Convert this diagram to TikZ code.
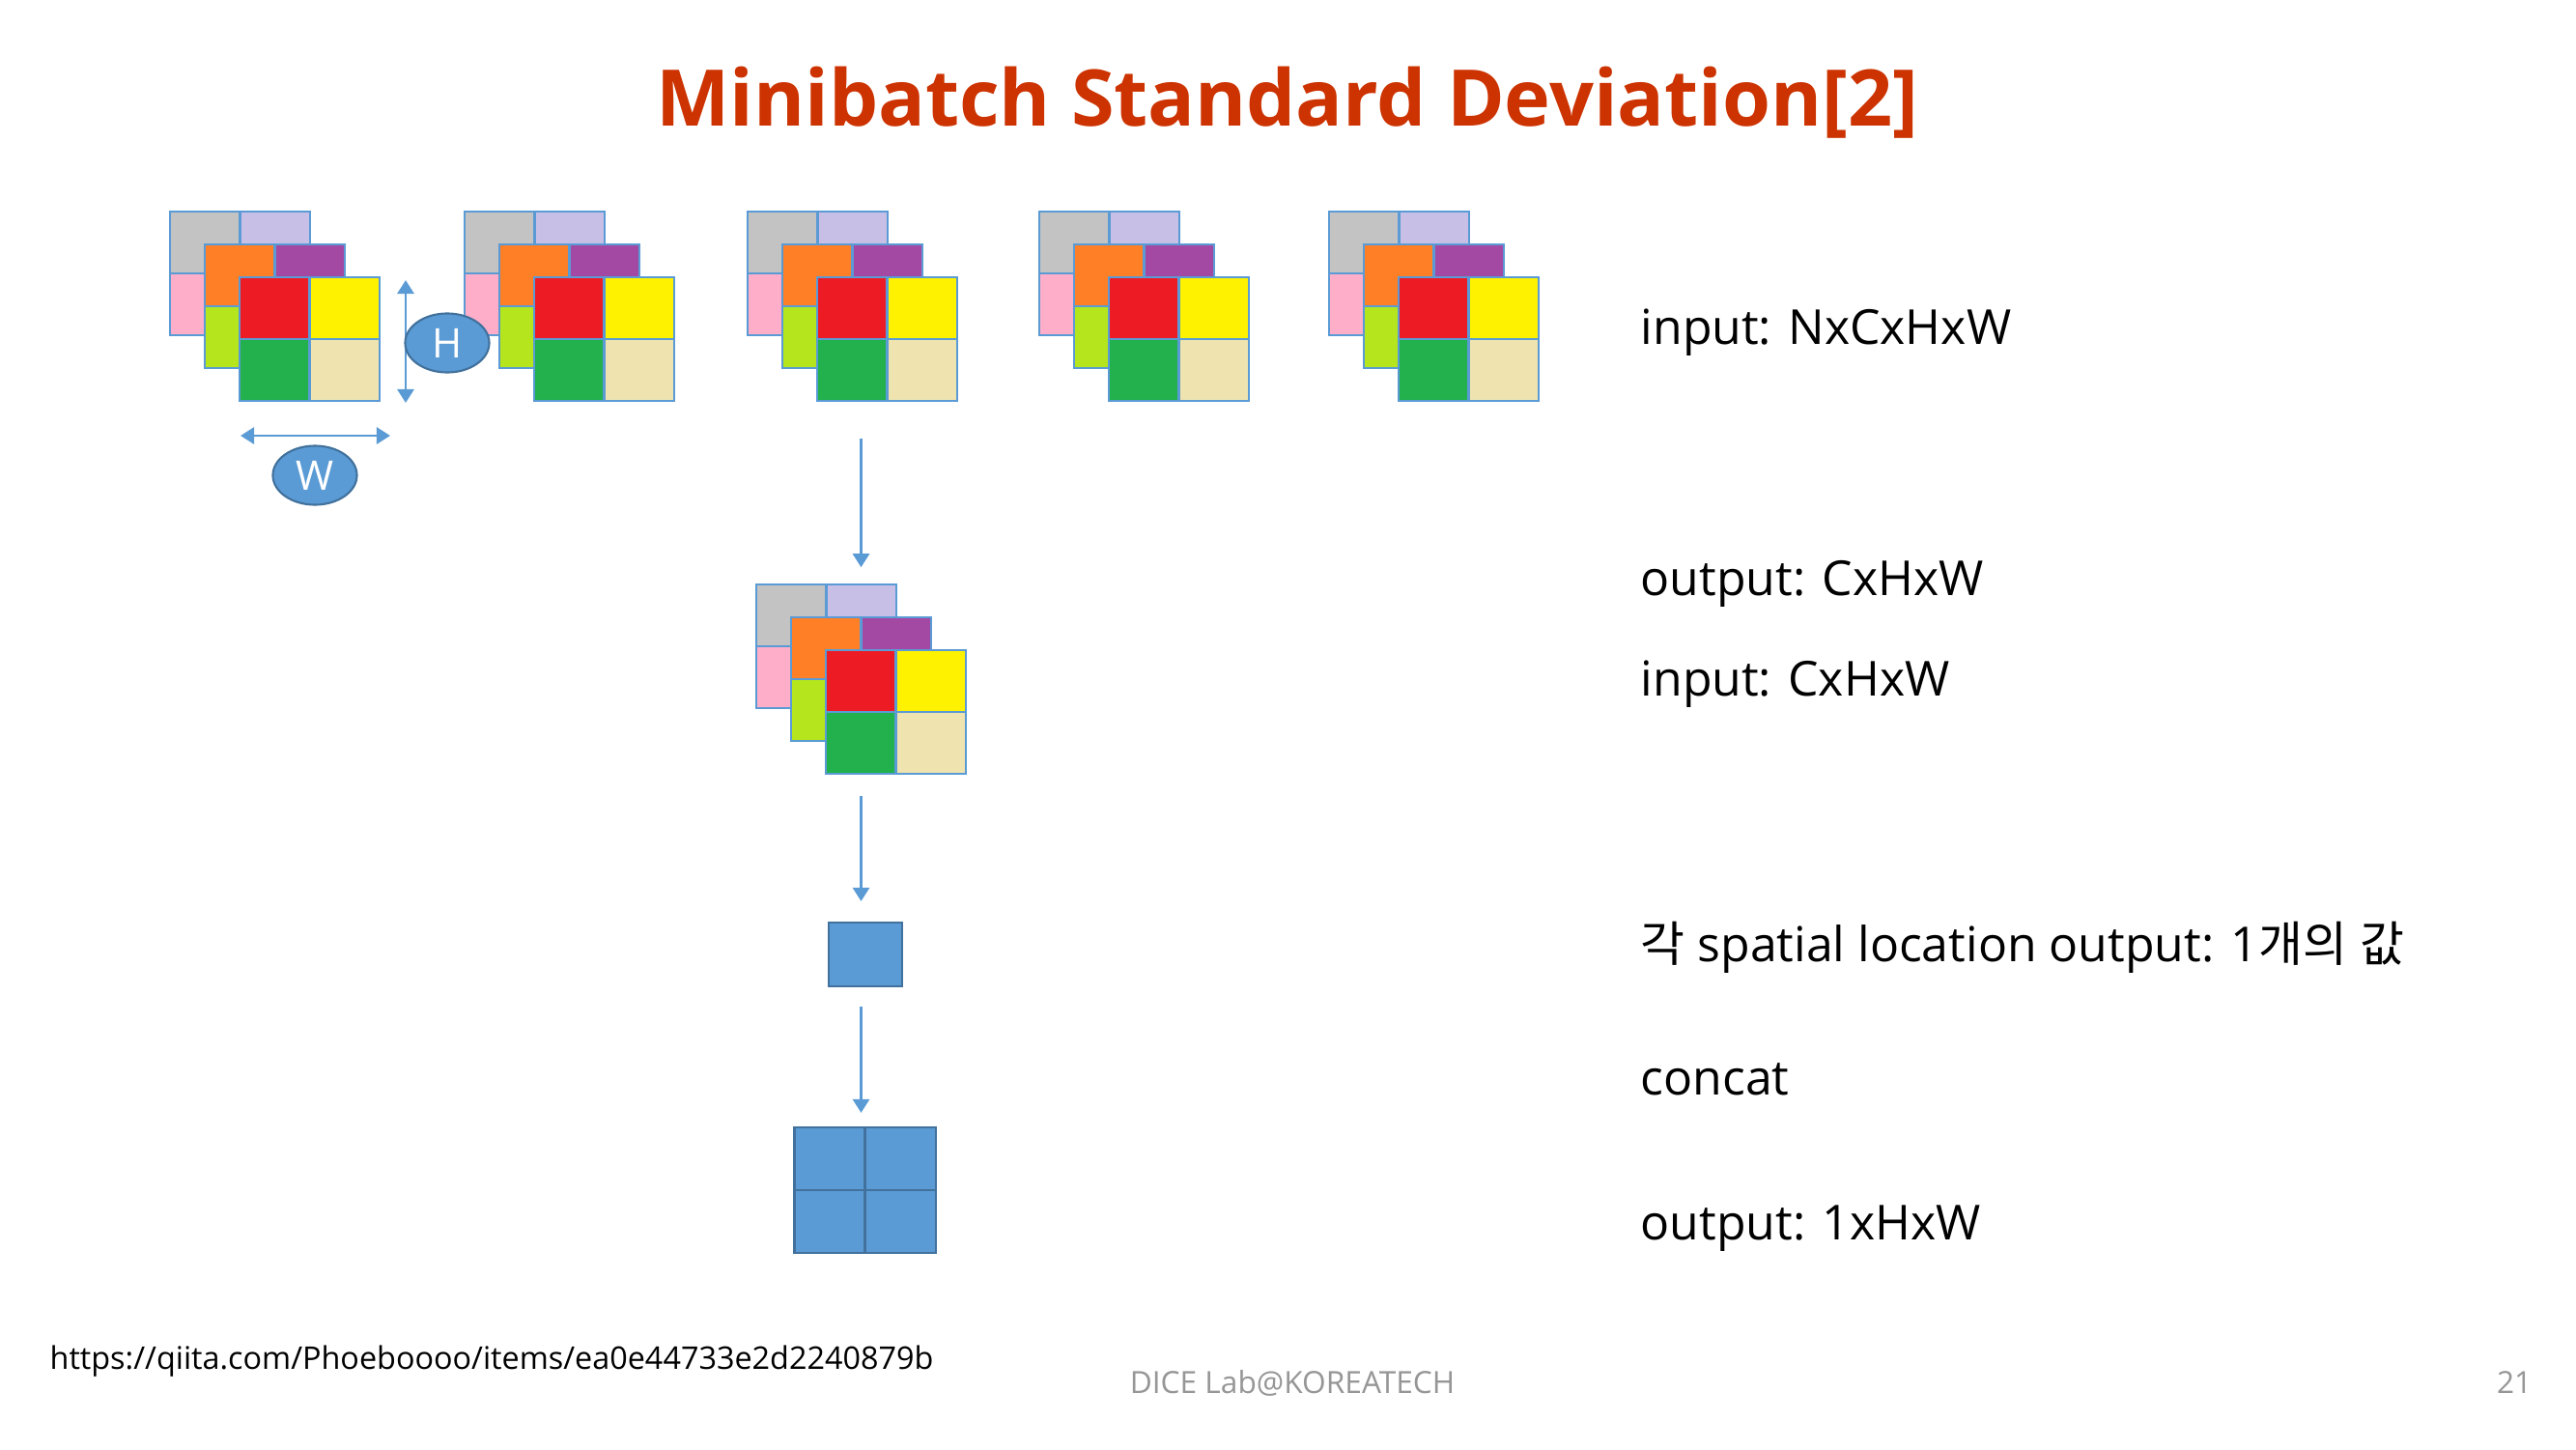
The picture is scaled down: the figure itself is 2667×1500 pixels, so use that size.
\documentclass[tikz,border=0pt]{standalone}
\usepackage{fontspec}
\setmainfont{Open Sans}
\newfontfamily\krfont{Noto Sans CJK KR}
\usetikzlibrary{arrows.meta,shapes.geometric}

\definecolor{cblue}{RGB}{91,155,213}
\definecolor{cbluedark}{RGB}{65,113,156}
\definecolor{cgray}{RGB}{195,195,195}
\definecolor{clav}{RGB}{200,191,231}
\definecolor{cpink}{RGB}{255,174,201}
\definecolor{corange}{RGB}{255,127,39}
\definecolor{cpurple}{RGB}{163,73,164}
\definecolor{clime}{RGB}{181,230,29}
\definecolor{cred}{RGB}{237,28,36}
\definecolor{cyellow}{RGB}{255,242,0}
\definecolor{cgreen}{RGB}{34,177,76}
\definecolor{ctan}{RGB}{239,228,176}
\definecolor{ctitle}{RGB}{204,51,0}
\definecolor{cfoot}{RGB}{150,150,150}

\tikzset{
  cell/.style={draw=cblue, line width=0.6pt},
  mapbox/.style={minimum width=2.17cm, minimum height=1.96cm, inner sep=0pt},
  unitbox/.style={rectangle, fill=cblue, draw=cbluedark, line width=0.6pt, inner sep=0pt},
  tag/.style={ellipse, fill=cblue, draw=cbluedark, line width=0.6pt, text=white,
    minimum width=0.87cm, minimum height=0.61cm, inner sep=0pt,
    font=\fontsize{12}{14}\selectfont},
  flow/.style={draw=cblue, line width=0.8pt, -{Triangle[width=0.17cm,length=0.14cm]}},
  dim/.style={draw=cblue, line width=0.8pt, {Triangle[width=0.17cm,length=0.14cm]}-{Triangle[width=0.17cm,length=0.14cm]}},
  txt/.style={anchor=base west, inner sep=0pt, font=\fontsize{14.2}{17}\selectfont},
}

% one channel: x, y, top left, top right, bottom left, bottom right
\newcommand\chlayer[6]{%
  \fill[#3] (#1,#2) rectangle ++(72.5,64);
  \fill[#4] (#1+72.5,#2) rectangle ++(72.5,64);
  \fill[#5] (#1,#2+64) rectangle ++(72.5,64);
  \fill[#6] (#1+72.5,#2+64) rectangle ++(72.5,64);
  \draw[cell] (#1,#2) rectangle ++(145,128) (#1+72.5,#2) -- ++(0,128) (#1,#2+64) -- ++(145,0);
}
% feature map of three channels: x, y, name
\newcommand\fmap[3]{%
  \chlayer{#1}{#2}{cgray}{clav}{cpink}{white}
  \chlayer{#1+36}{#2+34}{corange}{cpurple}{clime}{white}
  \chlayer{#1+72}{#2+68}{cred}{cyellow}{cgreen}{ctan}
  \node[mapbox] (#3) at (#1+108.5,#2+98) {};
}

\begin{document}
\begin{tikzpicture}[x=0.01cm, y=-0.01cm]
  %%%%% START %%%%%
  \fill[white] (0,0) rectangle (2667,1500);
  \useasboundingbox (0,0) rectangle (2667,1500);

  \node[anchor=base, inner sep=0pt, text=ctitle, font=\fontsize{23}{28}\selectfont\bfseries] (title) at (1333,130) {Minibatch Standard Deviation[2]};

  % N feature maps
  \fmap{176}{219}{s1}
  \fmap{481}{219}{s2}
  \fmap{774}{219}{s3}
  \fmap{1076}{219}{s4}
  \fmap{1376}{219}{s5}

  \coordinate (htop) at (420,290);
  \coordinate (hbot) at (420,417);
  \draw[dim] (htop) -- (hbot);
  \node[tag] (h) at (463,355) {H};

  \coordinate (wl) at (249,451);
  \coordinate (wr) at (404,451);
  \draw[dim] (wl) -- (wr);
  \node[tag] (w) at (326,492) {W};

  % std over the minibatch
  \fmap{783}{605}{mid}

  \node[unitbox, minimum width=0.76cm, minimum height=0.66cm] (sq) at (896,988) {};

  \node[unitbox, minimum width=1.46cm, minimum height=1.3cm] (grid) at (895.5,1232) {};
  \draw[cbluedark, line width=0.6pt] (grid.north) -- (grid.south) (grid.west) -- (grid.east);

  \draw[flow, shorten <=0.38cm, shorten >=0.17cm] (mid |- s3.south) -- (mid.north);
  \draw[flow, shorten <=0.22cm, shorten >=0.21cm] (mid.south) -- (mid.south |- sq.north);
  \draw[flow, shorten <=0.2cm, shorten >=0.14cm] (mid |- sq.south) -- (mid |- grid.north);

  % notes
  \node[txt] (t1) at (1698,356) {input: NxCxHxW};
  \node[txt] (t2) at (1698,616) {output: CxHxW};
  \node[txt] (t3) at (1698,720) {input: CxHxW};
  \node[txt] (t4) at (1698,995) {{\krfont 각} spatial location output: 1{\krfont 개의} {\krfont 값}};
  \node[txt] (t5) at (1698,1133) {concat};
  \node[txt] (t6) at (1698,1283) {output: 1xHxW};

  % footer
  \node[anchor=base west, inner sep=0pt, font=\fontsize{9.2}{11}\selectfont] (url) at (51,1417) {https://qiita.com/Phoeboooo/items/ea0e44733e2d2240879b};
  \node[anchor=base, inner sep=0pt, text=cfoot, font=\fontsize{9}{11}\selectfont] (lab) at (1338,1442) {DICE Lab@KOREATECH};
  \node[anchor=base east, inner sep=0pt, text=cfoot, font=\fontsize{9}{11}\selectfont] (page) at (2622,1442) {21};
  %%%%% END %%%%%
\end{tikzpicture}
\end{document}
